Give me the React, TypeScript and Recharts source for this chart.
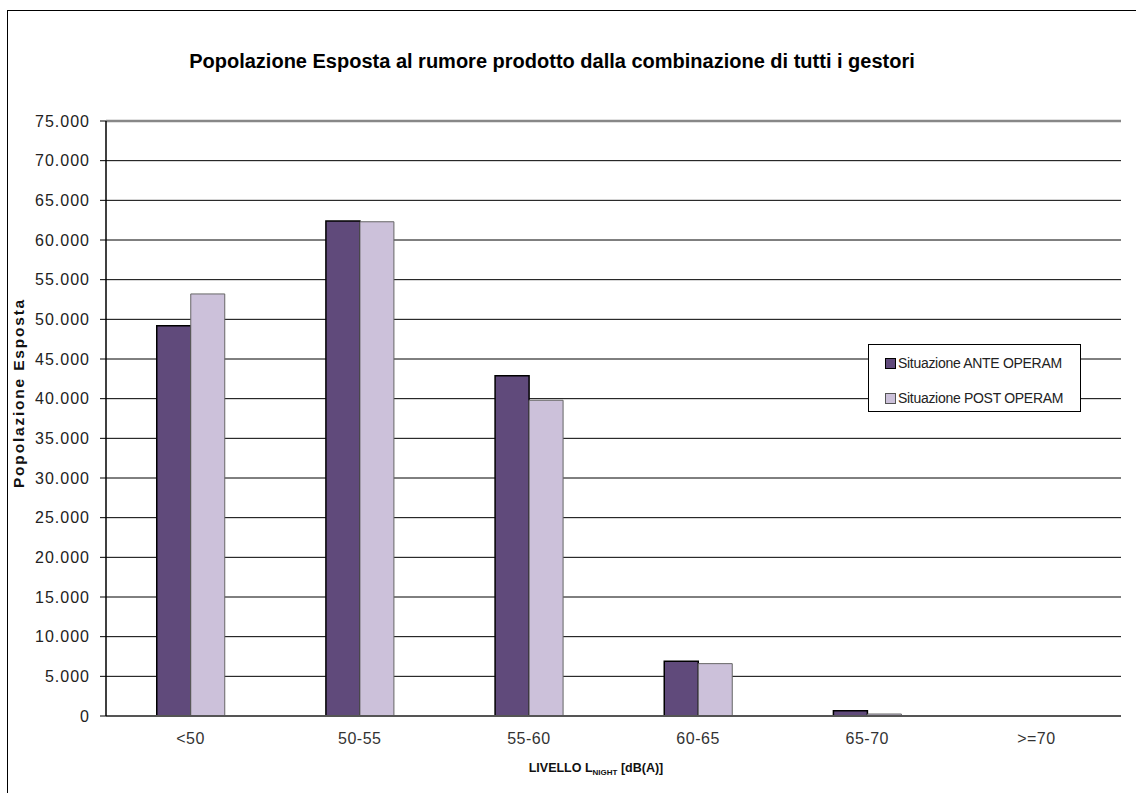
import React from 'react';
import {
  BarChart,
  Bar,
  XAxis,
  YAxis,
  CartesianGrid,
  ReferenceLine,
} from 'recharts';

const categories = ['<50', '50-55', '55-60', '60-65', '65-70', '>=70'];
const anteValues = [49200, 62400, 42900, 6900, 650, 0];
const postValues = [53200, 62300, 39800, 6600, 250, 0];
const yTicks = [0, 5000, 10000, 15000, 20000, 25000, 30000, 35000, 40000, 45000, 50000, 55000, 60000, 65000, 70000, 75000];

const data = categories.map((c, i) => ({ name: c, ante: anteValues[i], post: postValues[i] }));

const fmt = (v: number) => String(v).replace(/\B(?=(\d{3})+(?!\d))/g, '.');

const FONT = '"Liberation Sans", Arial, sans-serif';

function LegendBox() {
  const item = (color: string, border: string, label: string) => (
    <div style={{ display: 'flex', alignItems: 'center', height: 18 }}>
      <span style={{ width: 9, height: 9, background: color, border: `1px solid ${border}`, marginRight: 2 }} />
      <span style={{ fontSize: 14, color: '#222', letterSpacing: -0.3 }}>{label}</span>
    </div>
  );
  return (
    <div style={{ position: 'absolute', left: 868, top: 344, width: 213, height: 68, border: '1px solid #000', background: '#fff', boxSizing: 'border-box', padding: '9px 0 0 16px', fontFamily: FONT }}>
      {item('#604a7b', '#000', 'Situazione ANTE OPERAM')}
      <div style={{ height: 17 }} />
      {item('#ccc1da', '#555', 'Situazione POST OPERAM')}
    </div>
  );
}

const XLabel = (props: any) => {
  const vb = props.viewBox;
  const cx = 596;
  return (
    <text x={cx} y={vb.y + vb.height + 26} textAnchor="middle" fontFamily={FONT} fontWeight="bold" fontSize={12.5} fill="#111">
      LIVELLO L
      <tspan fontSize={8} dy={3}>NIGHT</tspan>
      <tspan dy={-3}> [dB(A)]</tspan>
    </text>
  );
};

export default function App() {
  return (
    <div style={{ position: 'absolute', left: 0, top: 0, width: 1136, height: 793, overflow: 'hidden', background: '#fff', fontFamily: FONT }}>
      <div style={{ position: 'absolute', left: 0, top: 0 }}>
        <BarChart
          width={1136}
          height={793}
          data={data}
          margin={{ top: 121, right: 15, left: 6, bottom: 47 }}
          barCategoryGap="30%"
          barGap={0}
        >
          <CartesianGrid vertical={false} stroke="#000" strokeWidth={1} />
          <XAxis
            dataKey="name"
            height={30}
            tickLine={false}
            axisLine={{ stroke: '#555', strokeWidth: 2 }}
            tick={{ fontSize: 16, fill: '#333', fontFamily: FONT, letterSpacing: 0.5 }}
            tickMargin={11}
            label={<XLabel />}
          />
          <YAxis
            width={100}
            domain={[0, 75000]}
            ticks={yTicks}
            interval={0}
            tickFormatter={fmt}
            tickSize={6}
            tickMargin={10}
            tickLine={{ stroke: '#000' }}
            axisLine={{ stroke: '#000', strokeWidth: 1.5 }}
            tick={{ fontSize: 16, fill: '#222', fontFamily: FONT, letterSpacing: 1 }}
          />
          <YAxis yAxisId="right" orientation="right" width={0} tick={false} tickLine={false} axisLine={{ stroke: '#999', strokeWidth: 2.5 }} domain={[0, 75000]} />
          <ReferenceLine y={75000} stroke="#888" strokeWidth={2.5} />
          <Bar dataKey="ante" fill="#604a7b" stroke="#000" strokeWidth={1.5} isAnimationActive={false} />
          <Bar dataKey="post" fill="#ccc1da" stroke="#666" strokeWidth={1} isAnimationActive={false} />
        </BarChart>
      </div>
      <div style={{ position: 'absolute', left: 7, top: 10, width: 1, height: 783, background: '#000' }} />
      <div style={{ position: 'absolute', left: 7, top: 10, width: 1129, height: 1, background: '#000' }} />
      <div style={{ position: 'absolute', left: 0, top: 50, width: 1104, textAlign: 'center', fontWeight: 'bold', fontSize: 20, color: '#000' }}>
        Popolazione Esposta al rumore prodotto dalla combinazione di tutti i gestori
      </div>
      <div style={{ position: 'absolute', left: 19, top: 393, transform: 'translate(-50%, -50%) rotate(-90deg)', whiteSpace: 'nowrap', fontWeight: 'bold', fontSize: 15.5, letterSpacing: 1.8, color: '#111' }}>
        Popolazione Esposta
      </div>
      <LegendBox />
    </div>
  );
}
